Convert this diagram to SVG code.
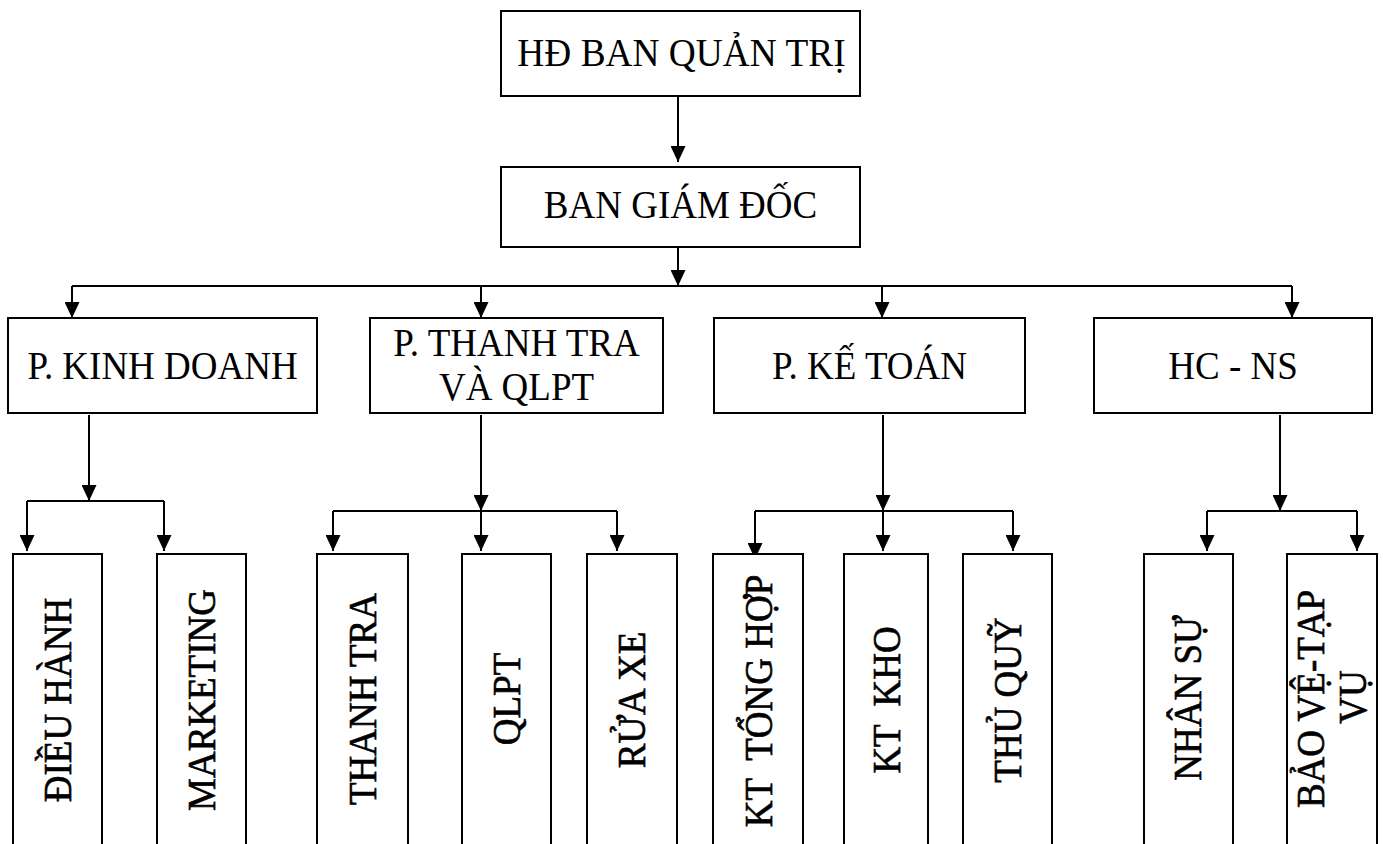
<svg xmlns="http://www.w3.org/2000/svg" width="1383" height="844" viewBox="0 0 1383 844">
  <style>
    .box { fill: #ffffff; stroke: #000000; stroke-width: 2; }
    .lbl { font-family: "Liberation Serif", "Times New Roman", serif; font-size: 37px; fill: #000000; text-anchor: middle; white-space: pre; }
    .vt { stroke: #000000; stroke-width: 0.6; }
    .wire { fill: none; stroke: #000000; stroke-width: 2; }
    .arr { fill: none; stroke: #000000; stroke-width: 2; marker-end: url(#head); }
  </style>
  <defs>
    <marker id="head" markerUnits="userSpaceOnUse" markerWidth="16" markerHeight="15" viewBox="0 0 16 15" refX="16" refY="7.5" orient="auto">
      <path d="M0,0 L16,7.5 L0,15 z" fill="#000000"/>
    </marker>
  </defs>
  <rect width="1383" height="844" fill="#ffffff"/>

  <!-- connectors -->
  <g id="connectors">
    <line class="arr" x1="678" y1="96" x2="678" y2="162"/>
    <line class="arr" x1="678" y1="247" x2="678" y2="286"/>
    <line class="wire" x1="72" y1="286" x2="1292" y2="286"/>
    <line class="arr" x1="72" y1="286" x2="72" y2="318"/>
    <line class="arr" x1="481" y1="286" x2="481" y2="318"/>
    <line class="arr" x1="882" y1="286" x2="882" y2="318"/>
    <line class="arr" x1="1292" y1="286" x2="1292" y2="318"/>

    <!-- P. KINH DOANH branch -->
    <line class="arr" x1="89" y1="415" x2="89" y2="501"/>
    <line class="wire" x1="27" y1="501" x2="164" y2="501"/>
    <line class="arr" x1="27" y1="501" x2="27" y2="551"/>
    <line class="arr" x1="164" y1="501" x2="164" y2="551"/>

    <!-- P. THANH TRA branch -->
    <line class="arr" x1="481" y1="415" x2="481" y2="511"/>
    <line class="wire" x1="333" y1="511" x2="617" y2="511"/>
    <line class="arr" x1="333" y1="511" x2="333" y2="551"/>
    <line class="arr" x1="481" y1="511" x2="481" y2="551"/>
    <line class="arr" x1="617" y1="511" x2="617" y2="551"/>

    <!-- P. KE TOAN branch -->
    <line class="arr" x1="883" y1="415" x2="883" y2="511"/>
    <line class="wire" x1="755" y1="511" x2="1013" y2="511"/>
    <line class="arr" x1="755" y1="511" x2="755" y2="559"/>
    <line class="arr" x1="883" y1="511" x2="883" y2="551"/>
    <line class="arr" x1="1013" y1="511" x2="1013" y2="551"/>

    <!-- HC - NS branch -->
    <line class="arr" x1="1280" y1="415" x2="1280" y2="511"/>
    <line class="wire" x1="1207" y1="511" x2="1357" y2="511"/>
    <line class="arr" x1="1207" y1="511" x2="1207" y2="551"/>
    <line class="arr" x1="1357" y1="511" x2="1357" y2="551"/>
  </g>

  <!-- top levels -->
  <g id="hdqt">
    <rect class="box" x="501" y="11" width="359" height="85"/>
    <text class="lbl" transform="translate(681.5,66) scale(1.01,1.06)">HĐ BAN QUẢN TRỊ</text>
  </g>
  <g id="bgd">
    <rect class="box" x="501" y="167" width="359" height="80"/>
    <text class="lbl" transform="translate(680.5,218) scale(1,1.06)">BAN GIÁM ĐỐC</text>
  </g>

  <!-- departments -->
  <g id="kinh-doanh">
    <rect class="box" x="8" y="318" width="309" height="95"/>
    <text class="lbl" transform="translate(162.5,378.5) scale(1,1.06)">P. KINH DOANH</text>
  </g>
  <g id="thanh-tra">
    <rect class="box" x="370" y="318" width="293" height="95"/>
    <text class="lbl" transform="translate(516.5,356) scale(1,1.06)">P. THANH TRA</text>
    <text class="lbl" transform="translate(516.5,400) scale(1,1.06)">VÀ QLPT</text>
  </g>
  <g id="ke-toan">
    <rect class="box" x="714" y="318" width="311" height="95"/>
    <text class="lbl" transform="translate(869.5,378.5) scale(1,1.06)">P. KẾ TOÁN</text>
  </g>
  <g id="hc-ns">
    <rect class="box" x="1094" y="318" width="278" height="95"/>
    <text class="lbl" transform="translate(1233,378.5) scale(1,1.06)">HC - NS</text>
  </g>

  <!-- units (vertical labels) -->
  <g id="dieu-hanh">
    <rect class="box" x="13" y="554" width="89" height="300"/>
    <text class="lbl vt" transform="translate(71,700) rotate(-90) scale(1,1.06)">ĐIỀU HÀNH</text>
  </g>
  <g id="marketing">
    <rect class="box" x="157" y="554" width="89" height="300"/>
    <text class="lbl vt" transform="translate(215,700) rotate(-90) scale(1,1.06)">MARKETING</text>
  </g>
  <g id="thanh-tra-unit">
    <rect class="box" x="317" y="554" width="91" height="300"/>
    <text class="lbl vt" transform="translate(376,699) rotate(-90) scale(1,1.06)">THANH TRA</text>
  </g>
  <g id="qlpt">
    <rect class="box" x="462" y="554" width="89" height="300"/>
    <text class="lbl vt" transform="translate(520,699) rotate(-90) scale(1,1.06)">QLPT</text>
  </g>
  <g id="rua-xe">
    <rect class="box" x="587" y="554" width="90" height="300"/>
    <text class="lbl vt" transform="translate(645,700) rotate(-90) scale(1,1.06)">RỬA XE</text>
  </g>
  <g id="kt-tong-hop">
    <rect class="box" x="713" y="554" width="90" height="300"/>
    <text class="lbl vt" transform="translate(772,701) rotate(-90) scale(1,1.06)">KT  TỔNG HỢP</text>
  </g>
  <g id="kt-kho">
    <rect class="box" x="844" y="554" width="84" height="300"/>
    <text class="lbl vt" transform="translate(900,700) rotate(-90) scale(1,1.06)">KT  KHO</text>
  </g>
  <g id="thu-quy">
    <rect class="box" x="963" y="554" width="89" height="300"/>
    <text class="lbl vt" transform="translate(1021,700) rotate(-90) scale(1,1.06)">THỦ QUỸ</text>
  </g>
  <g id="nhan-su">
    <rect class="box" x="1144" y="554" width="89" height="300"/>
    <text class="lbl vt" transform="translate(1201,698) rotate(-90) scale(1,1.06)">NHÂN SỰ</text>
  </g>
  <g id="bao-ve">
    <rect class="box" x="1287" y="554" width="90" height="300"/>
    <text class="lbl vt" transform="translate(1324,699) rotate(-90) scale(1,1.06)">BẢO VỆ-TẠP</text>
    <text class="lbl vt" transform="translate(1366,697) rotate(-90) scale(1,1.06)">VỤ</text>
  </g>
</svg>
